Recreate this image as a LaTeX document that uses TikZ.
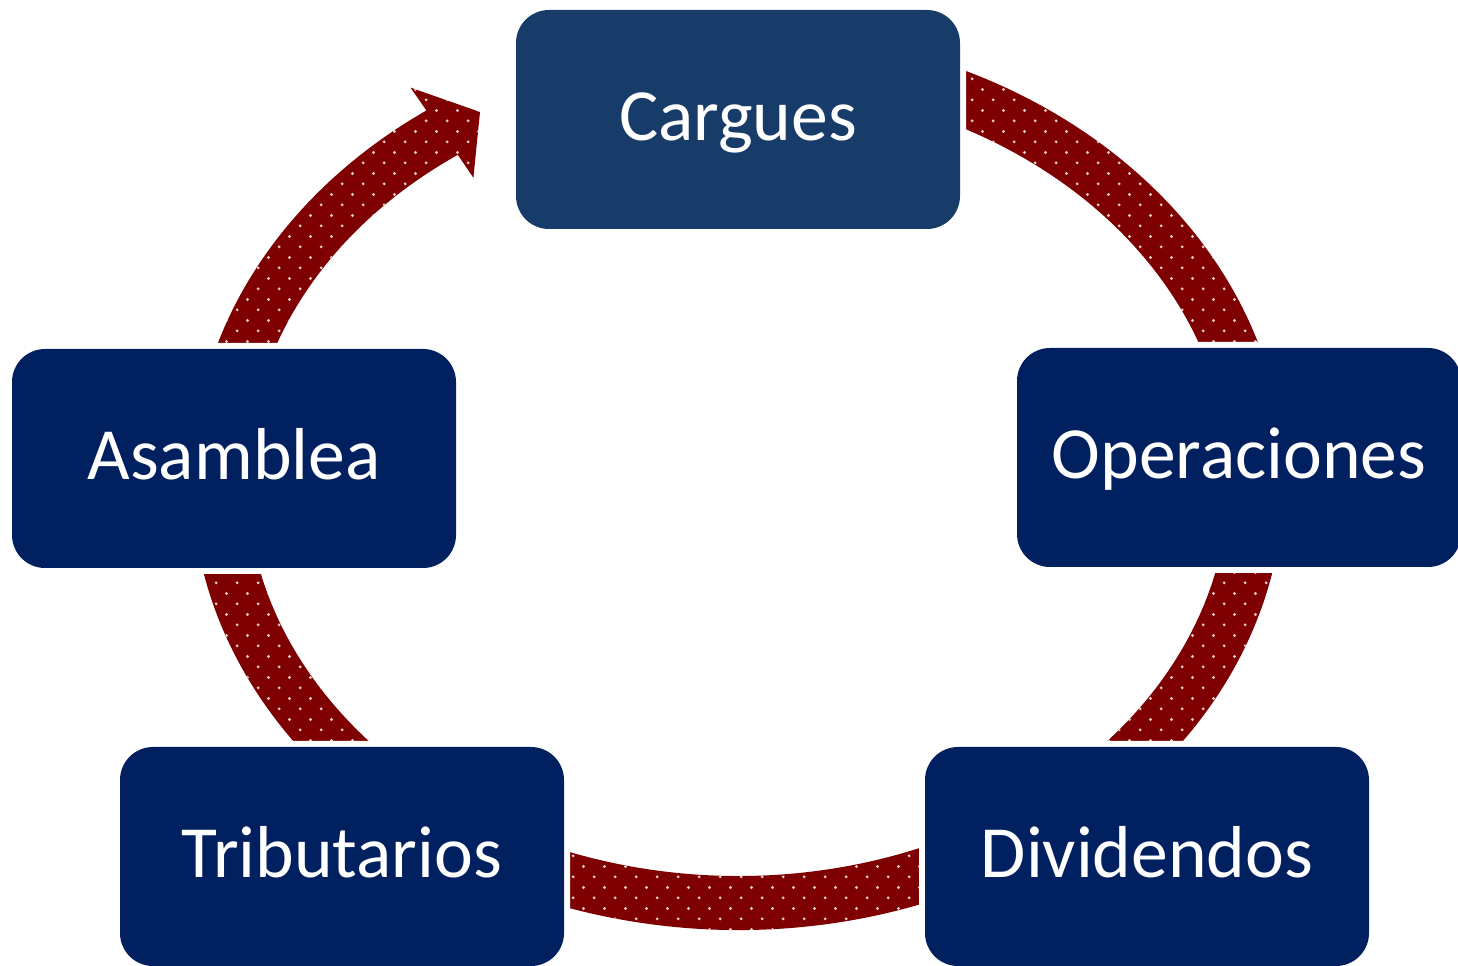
\documentclass[tikz,border=0pt]{standalone}
\usepackage{fontspec}
\setmainfont{Carlito}
\usetikzlibrary{calc,patterns.meta}
\definecolor{ringred}{HTML}{7F0000}
\definecolor{boxnavy}{HTML}{002060}
\definecolor{boxtop}{HTML}{183C69}
\pgfdeclarepattern{
  name=ringdots,
  type=uncolored,
  bottom left={\pgfpoint{0pt}{0pt}},
  top right={\pgfpoint{10.65pt}{10.65pt}},
  tile size={\pgfpoint{10.65pt}{10.65pt}},
  code={
    \pgfpathcircle{\pgfpoint{2.66pt}{2.66pt}}{0.8pt}
    \pgfpathcircle{\pgfpoint{7.99pt}{7.99pt}}{0.8pt}
    \pgfusepath{fill}
  }
}
\tikzset{
  ringband/.style={fill=ringred, postaction={pattern=ringdots, pattern color=white!80!ringred}},
  box/.style={rounded corners=16.5pt, minimum width=222pt, minimum height=109.5pt,
    inner sep=0pt, fill=boxnavy, text=white, font=\fontsize{36.8}{44}\selectfont,
    text height=21.5pt, text depth=0pt, preaction={draw=white, line width=6pt}}
}
\begin{document}
\begin{tikzpicture}[x=0.5pt,y=0.5pt]
\useasboundingbox (0,0) rectangle (1458,965);
\coordinate (E) at (738,485);
% cycle band with arrowhead
\fill[ringband] ($(E)+(80:546 and 450)$)
  arc[start angle=80, end angle=-235.2, x radius=546, y radius=450]
  -- (410.5,877.4) -- (480,853) -- (473.4,787.2)
  -- ($(E)+(-235.2:491 and 396)$)
  arc[start angle=-235.2, end angle=80, x radius=491, y radius=396]
  -- cycle;
% boxes
\node[box, fill=boxtop] (cargues) at (738,845.5) {Cargues};
\node[box] (oper) at (1239,507.5) {Operaciones};
\node[box] (divid) at (1147,108.5) {Dividendos};
\node[box] (tribut) at (342,108.5) {Tributarios};
\node[box] (asamb) at (234,506.5) {Asamblea};
\end{tikzpicture}
\end{document}
